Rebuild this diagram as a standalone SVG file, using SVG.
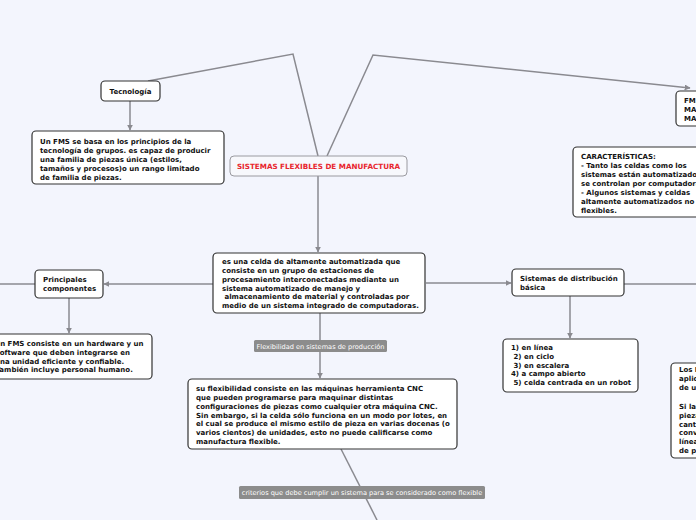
<svg xmlns="http://www.w3.org/2000/svg" width="696" height="520" viewBox="0 0 696 520">
<defs>
<marker id="ah" viewBox="0 0 10 10" refX="9" refY="5" markerWidth="6" markerHeight="6" markerUnits="userSpaceOnUse" orient="auto">
<path d="M0,0 L10,5 L0,10 z" fill="#8a8a90"/>
</marker>
<style>
.bg{fill:#f3f5fd}
.node{fill:#ffffff;stroke:#333333;stroke-width:1.2}
.t{font-family:"DejaVu Sans",Verdana,sans-serif;font-weight:bold;font-size:7px;fill:#111111}
.title{font-family:"DejaVu Sans",Verdana,sans-serif;font-weight:bold;font-size:7.2px;fill:#e8262e}
.lbl{fill:#8c8c8c}
.lt{font-family:"DejaVu Sans",Verdana,sans-serif;font-size:6.6px;fill:#ffffff}
.c{fill:none;stroke:#8a8a90;stroke-width:1.5}
</style>
</defs>
<rect class="bg" x="0" y="0" width="696" height="520"/>

<g id="connectors">
<polyline class="c" points="318,156 293,54 148,81"/>
<polyline class="c" points="327,156 373,55 690,88" marker-end="url(#ah)"/>
<line class="c" x1="130" y1="101" x2="130" y2="130" marker-end="url(#ah)"/>
<line class="c" x1="318" y1="176" x2="318" y2="252" marker-end="url(#ah)"/>
<line class="c" x1="213" y1="284" x2="104" y2="284" marker-end="url(#ah)"/>
<line class="c" x1="35" y1="284" x2="0" y2="284"/>
<line class="c" x1="69" y1="298" x2="69" y2="333" marker-end="url(#ah)"/>
<line class="c" x1="426" y1="283" x2="511" y2="283" marker-end="url(#ah)"/>
<line class="c" x1="624" y1="284" x2="696" y2="284"/>
<line class="c" x1="570" y1="296" x2="570" y2="338" marker-end="url(#ah)"/>
<line class="c" x1="320" y1="313" x2="320" y2="378" marker-end="url(#ah)"/>
<line class="c" x1="341" y1="449" x2="377" y2="520"/>
</g>

<g id="title">
<rect x="230" y="156" width="177" height="20" rx="4" fill="#f7f8fc" stroke="#9a9aa0" stroke-width="1"/>
<text class="title" x="318.5" y="168.5" text-anchor="middle">SISTEMAS FLEXIBLES DE MANUFACTURA</text>
</g>

<g id="tecnologia">
<rect class="node" x="101" y="81" width="59" height="20" rx="4"/>
<text class="t" x="130.5" y="93.5" text-anchor="middle">Tecnología</text>
</g>

<g id="tecnologia-desc">
<rect class="node" x="32" y="131" width="192" height="53" rx="4"/>
<text class="t" x="40" y="144">Un FMS se basa en los principios de la</text>
<text class="t" x="40" y="153">tecnología de grupos. es capaz de producir</text>
<text class="t" x="40" y="162">una familia de piezas única (estilos,</text>
<text class="t" x="40" y="171">tamaños y procesos)o un rango limitado</text>
<text class="t" x="40" y="180">de familia de piezas.</text>
</g>

<g id="fms-right">
<rect class="node" x="676" y="91" width="40" height="35" rx="4"/>
<text class="t" x="684" y="103">FMS:</text>
<text class="t" x="684" y="112">MAQUINAS</text>
<text class="t" x="684" y="121">MANUFACTURA</text>
</g>

<g id="caracteristicas">
<rect class="node" x="573" y="147" width="140" height="70" rx="4"/>
<text class="t" x="581" y="159">CARACTERÍSTICAS:</text>
<text class="t" x="581" y="168">- Tanto las celdas como los</text>
<text class="t" x="581" y="177">sistemas están automatizados y</text>
<text class="t" x="581" y="186">se controlan por computadora.</text>
<text class="t" x="581" y="195">- Algunos sistemas y celdas</text>
<text class="t" x="581" y="204">altamente automatizados no son</text>
<text class="t" x="581" y="213">flexibles.</text>
</g>

<g id="definicion">
<rect class="node" x="213" y="253" width="212" height="60" rx="4"/>
<text class="t" x="222" y="264">es una celda de altamente automatizada que</text>
<text class="t" x="222" y="273">consiste en un grupo de estaciones de</text>
<text class="t" x="222" y="281.5">procesamiento interconectadas mediante un</text>
<text class="t" x="222" y="290.5">sistema automatizado de manejo y</text>
<text class="t" x="224.5" y="299">almacenamiento de material y controladas por</text>
<text class="t" x="222" y="308">medio de un sistema integrado de computadoras.</text>
</g>

<g id="principales">
<rect class="node" x="35" y="270" width="68" height="28" rx="4"/>
<text class="t" x="43" y="282">Principales</text>
<text class="t" x="43" y="291">componentes</text>
</g>

<g id="principales-desc">
<rect class="node" x="-20" y="334" width="172" height="45" rx="4"/>
<text class="t" x="-5.5" y="346">Un FMS consiste en un hardware y un</text>
<text class="t" x="-4.5" y="355">software que deben integrarse en</text>
<text class="t" x="-5" y="363.5">una unidad eficiente y confiable.</text>
<text class="t" x="-4.5" y="372">También incluye personal humano.</text>
</g>

<g id="distribucion">
<rect class="node" x="512" y="269" width="112" height="27" rx="4"/>
<text class="t" x="520" y="281">Sistemas de distribución</text>
<text class="t" x="520" y="290">básica</text>
</g>

<g id="distribucion-lista">
<rect class="node" x="503" y="339" width="135" height="53" rx="4"/>
<text class="t" x="511" y="350">1) en línea</text>
<text class="t" x="513.5" y="359">2) en ciclo</text>
<text class="t" x="513.5" y="367.5">3) en escalera</text>
<text class="t" x="511" y="376">4) a campo abierto</text>
<text class="t" x="513.5" y="385">5) celda centrada en un robot</text>
</g>

<g id="right-bottom">
<rect class="node" x="671" y="363" width="60" height="95" rx="4"/>
<text class="t" x="679" y="372">Los FMS</text>
<text class="t" x="679" y="381">aplicados</text>
<text class="t" x="679" y="390">de una</text>
<text class="t" x="679" y="409">Si las</text>
<text class="t" x="679" y="418">piezas</text>
<text class="t" x="679" y="426.5">cantidad</text>
<text class="t" x="679" y="435">convencional</text>
<text class="t" x="679" y="444">línea</text>
<text class="t" x="679" y="453">de producción</text>
</g>

<g id="label-flexibilidad">
<rect class="lbl" x="254" y="340" width="133" height="12" rx="1.5"/>
<text class="lt" x="320.5" y="348.5" text-anchor="middle">Flexibilidad en sistemas de producción</text>
</g>

<g id="flexibilidad">
<rect class="node" x="188" y="379" width="269" height="70" rx="4"/>
<text class="t" x="196" y="391">su flexibilidad consiste en las máquinas herramienta CNC</text>
<text class="t" x="196" y="400">que pueden programarse para maquinar distintas</text>
<text class="t" x="196" y="409">configuraciones de piezas como cualquier otra máquina CNC.</text>
<text class="t" x="196" y="417.5">Sin embargo, si la celda sólo funciona en un modo por lotes, en</text>
<text class="t" x="196" y="426">el cual se produce el mismo estilo de pieza en varias docenas (o</text>
<text class="t" x="196" y="435">varios cientos) de unidades, esto no puede calificarse como</text>
<text class="t" x="196" y="443.5">manufactura flexible.</text>
</g>

<g id="label-criterios">
<rect class="lbl" x="239" y="486" width="246" height="13" rx="1.5"/>
<text class="lt" x="362" y="495" text-anchor="middle">criterios que debe cumplir un sistema para se considerado como flexible</text>
</g>
</svg>
